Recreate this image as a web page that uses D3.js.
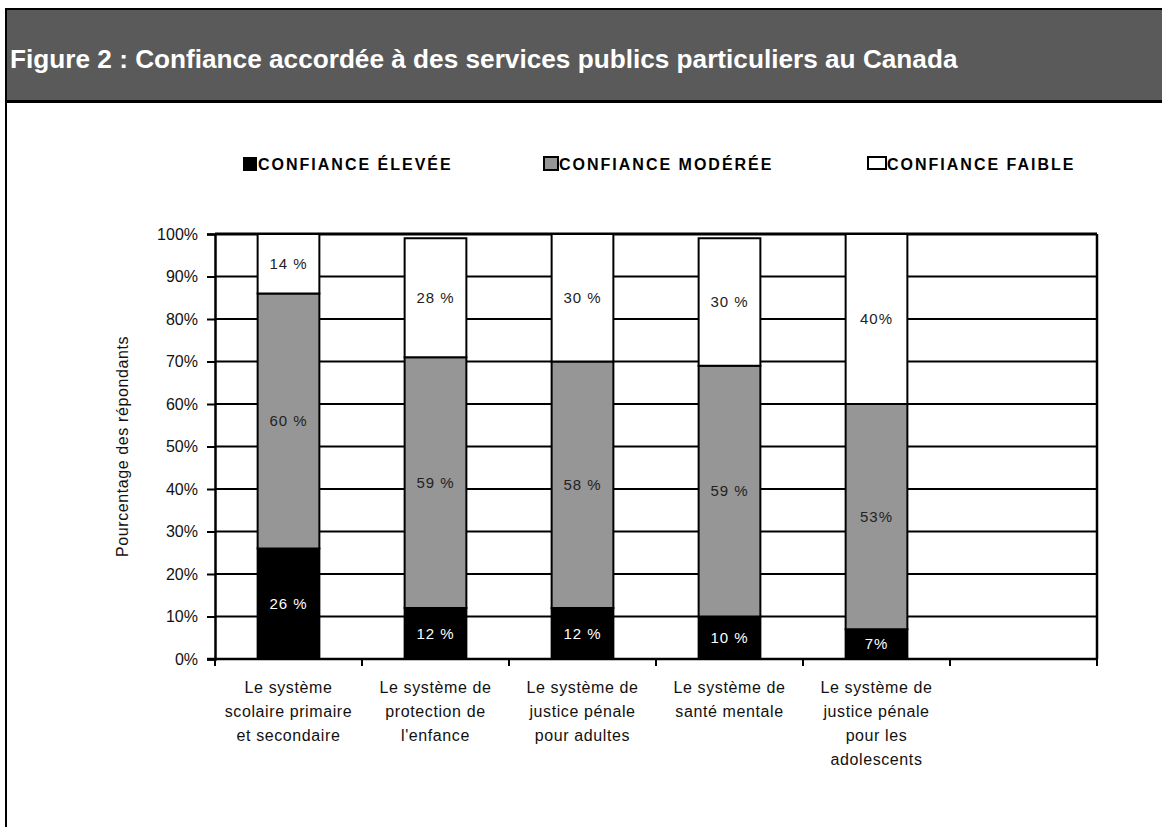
<!DOCTYPE html>
<html>
<head>
<meta charset="utf-8">
<script src="https://cdn.jsdelivr.net/npm/d3@7"></script>
<style>
  html, body { margin: 0; padding: 0; background: #fff; }
  svg { display: block; }
  .narrow { font-family: "Liberation Sans Narrow", "Arial Narrow", "Liberation Sans", Arial, sans-serif; }
</style>
</head>
<body>
<svg id="chart" width="1162" height="827"></svg>
<script>
// Confidence levels for five Canadian public services (percent of respondents)
const categoryLines = [
  ["Le système", "scolaire primaire", "et secondaire"],
  ["Le système de", "protection de", "l'enfance"],
  ["Le système de", "justice pénale", "pour adultes"],
  ["Le système de", "santé mentale"],
  ["Le système de", "justice pénale", "pour les", "adolescents"],
  []
];
const seriesKeys = ["elevee", "moderee", "faible"];
const seriesNames = ["CONFIANCE ÉLEVÉE", "CONFIANCE MODÉRÉE", "CONFIANCE FAIBLE"];
const confianceElevee = [26, 12, 12, 10, 7];
const confianceModeree = [60, 59, 58, 59, 53];
const confianceFaible = [14, 28, 30, 30, 40];
// separator between number and % sign in each column's value labels
const labelSeparator = [" ", " ", " ", " ", ""];
const yTicks = [0, 10, 20, 30, 40, 50, 60, 70, 80, 90, 100];
const title = "Figure 2 : Confiance accordée à des services publics particuliers au Canada";
const yTitle = "Pourcentage des répondants";

const fills = { elevee: "#000000", moderee: "#969696", faible: "#ffffff" };
const labelColors = { elevee: "#ffffff", moderee: "#222222", faible: "#222222" };

const rows = confianceElevee.map((v, i) => ({
  idx: i, elevee: v, moderee: confianceModeree[i], faible: confianceFaible[i]
}));

const svg = d3.select("#chart");

// Header band
svg.append("rect").attr("x", 6).attr("y", 9).attr("width", 1162).attr("height", 92)
  .attr("fill", "#5a5a5a");
svg.append("line").attr("x1", 5).attr("x2", 1162).attr("y1", 9).attr("y2", 9)
  .attr("stroke", "#000").attr("stroke-width", 2);
svg.append("line").attr("x1", 5).attr("x2", 1162).attr("y1", 101.5).attr("y2", 101.5)
  .attr("stroke", "#000").attr("stroke-width", 3);
svg.append("line").attr("x1", 6).attr("x2", 6).attr("y1", 8).attr("y2", 827)
  .attr("stroke", "#000").attr("stroke-width", 2);
svg.append("text").attr("x", 10).attr("y", 68)
  .attr("fill", "#fff")
  .style("font-family", "'Liberation Sans', Arial, sans-serif")
  .style("font-weight", "bold").style("font-size", "26.2px")
  .text(title);

// Plot geometry
const margin = { left: 215, right: 1097, top: 234, bottom: 659 };
const x = d3.scaleBand().domain(d3.range(categoryLines.length))
  .range([margin.left, margin.right]).paddingInner(0).paddingOuter(0);
const y = d3.scaleLinear().domain([0, 100]).range([margin.bottom, margin.top]);
const barW = x.bandwidth() * 0.42;

// Horizontal gridlines
svg.append("g").selectAll("line").data(yTicks.filter(t => t > 0)).join("line")
  .attr("x1", margin.left).attr("x2", margin.right)
  .attr("y1", d => y(d)).attr("y2", d => y(d))
  .attr("stroke", "#000").attr("stroke-width", d => d === 100 ? 3 : 2);

// Right frame edge
svg.append("line").attr("x1", margin.right).attr("x2", margin.right)
  .attr("y1", y(100)).attr("y2", y(0)).attr("stroke", "#000").attr("stroke-width", 2.5);

// Stacked bars
const stacked = d3.stack().keys(seriesKeys)(rows);
const gBars = svg.append("g");
stacked.forEach(layer => {
  const key = layer.key;
  gBars.append("g").selectAll("rect").data(layer).join("rect")
    .attr("x", d => x(d.data.idx) + (x.bandwidth() - barW) / 2)
    .attr("width", barW)
    .attr("y", d => y(d[1]))
    .attr("height", d => y(d[0]) - y(d[1]))
    .attr("fill", fills[key])
    .attr("stroke", "#000").attr("stroke-width", 2);
});
stacked.forEach(layer => {
  const key = layer.key;
  gBars.append("g").selectAll("text").data(layer).join("text")
    .attr("class", "narrow")
    .attr("x", d => x(d.data.idx) + x.bandwidth() / 2)
    .attr("y", d => y((d[0] + d[1]) / 2))
    .attr("dy", "0.35em")
    .attr("text-anchor", "middle")
    .attr("fill", labelColors[key])
    .style("font-size", "15px").style("letter-spacing", "1px")
    .text(d => (d[1] - d[0]) + labelSeparator[d.data.idx] + "%");
});

// Y axis
const yAxis = d3.axisLeft(y).tickValues(yTicks).tickSize(8).tickPadding(9)
  .tickFormat(d => d + "%");
const gy = svg.append("g").attr("transform", `translate(${margin.left},0)`).call(yAxis);
gy.select(".domain").attr("stroke", "#000").attr("stroke-width", 2.5);
gy.selectAll(".tick line").attr("stroke", "#000").attr("stroke-width", 2);
gy.selectAll(".tick text").attr("class", "narrow").attr("fill", "#111")
  .style("font-size", "16px");

// X axis with ticks on band boundaries
const gx = svg.append("g").attr("transform", `translate(0,${margin.bottom})`);
gx.append("line").attr("x1", margin.left - 8).attr("x2", margin.right)
  .attr("y1", 0).attr("y2", 0).attr("stroke", "#000").attr("stroke-width", 2.5);
const edges = d3.range(categoryLines.length + 1).map(i =>
  i < categoryLines.length ? x(i) : x(i - 1) + x.bandwidth());
gx.selectAll("line.edge").data(edges).join("line").attr("class", "edge")
  .attr("x1", d => d).attr("x2", d => d).attr("y1", 0).attr("y2", 7)
  .attr("stroke", "#000").attr("stroke-width", 2);
categoryLines.forEach((lines, i) => {
  const t = svg.append("text").attr("class", "narrow")
    .attr("text-anchor", "middle").attr("fill", "#111")
    .style("font-size", "16px").style("letter-spacing", "0.6px");
  lines.forEach((ln, j) => {
    t.append("tspan").attr("x", x(i) + x.bandwidth() / 2)
      .attr("y", 693 + j * 24).text(ln);
  });
});

// Y axis title
svg.append("text").attr("class", "narrow")
  .attr("transform", `translate(128,${(margin.top + margin.bottom) / 2}) rotate(-90)`)
  .attr("text-anchor", "middle").attr("fill", "#111")
  .style("font-size", "16px").style("letter-spacing", "0.6px")
  .text(yTitle);

// Legend
const legendPos = [
  { sx: 243, sw: 14, sh: 14 },
  { sx: 544, sw: 14, sh: 13 },
  { sx: 868, sw: 18, sh: 12 }
];
seriesKeys.forEach((key, i) => {
  const p = legendPos[i];
  const g = svg.append("g");
  g.append("rect").attr("x", p.sx).attr("y", 157).attr("width", p.sw).attr("height", p.sh)
    .attr("fill", fills[key]).attr("stroke", "#000").attr("stroke-width", key === "elevee" ? 0 : 2);
  g.append("text").attr("class", "narrow")
    .attr("x", p.sx + p.sw + 1).attr("y", 170)
    .attr("fill", "#000")
    .style("font-size", "16px").style("font-weight", "bold").style("letter-spacing", "2px")
    .text(seriesNames[i]);
});
</script>
</body>
</html>
